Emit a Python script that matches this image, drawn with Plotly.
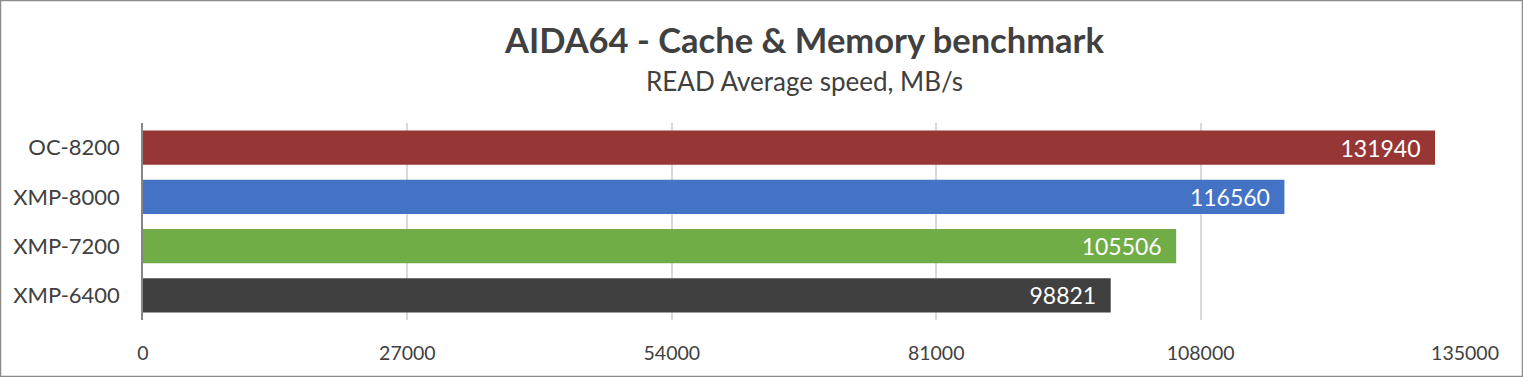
import plotly.graph_objects as go

categories = ["OC-8200", "XMP-8000", "XMP-7200", "XMP-6400"]
values = [131940, 116560, 105506, 98821]
colors = ["#973735", "#4472C4", "#70AD47", "#404040"]
tick_vals = [0, 27000, 54000, 81000, 108000, 135000]

FONT = "Lato"

fig = go.Figure()
fig.add_trace(go.Bar(
    y=categories,
    x=values,
    orientation="h",
    marker=dict(color=colors, line=dict(width=0)),
    text=[f"{v}\u2002" for v in values],
    textposition="inside",
    insidetextanchor="end",
    textfont=dict(family=FONT, size=23, color="white"),
    cliponaxis=False,
    hoverinfo="skip",
))

fig.update_layout(
    width=1523, height=377,
    margin=dict(l=143, r=58, t=123, b=57),
    paper_bgcolor="white",
    plot_bgcolor="white",
    showlegend=False,
    bargap=0.3,
    font=dict(family=FONT, color="#404040"),
)
fig.update_xaxes(
    range=[0, 135000],
    tickvals=tick_vals,
    ticktext=[str(v) for v in tick_vals],
    showgrid=True, gridcolor="#D9D9D9", gridwidth=1.5,
    zeroline=False, showline=False,
    tickfont=dict(family=FONT, size=19.5, color="#404040"),
    ticks="", ticklabelstandoff=19,
    fixedrange=True,
)
fig.update_yaxes(
    autorange="reversed",
    showgrid=False, zeroline=False,
    showline=True, linecolor="#868686", linewidth=1.5,
    tickfont=dict(family=FONT, size=22, color="#404040"),
    ticks="", ticklabelstandoff=17,
    fixedrange=True,
)
fig.add_annotation(
    text="<b>AIDA64 - Cache & Memory benchmark</b>",
    xref="paper", yref="paper", x=0.5, y=1,
    yshift=84, showarrow=False,
    font=dict(family=FONT, size=34.5, color="#404040"),
    xanchor="center", yanchor="middle",
)
fig.add_annotation(
    text="READ Average speed, MB/s",
    xref="paper", yref="paper", x=0.5, y=1,
    yshift=42, showarrow=False,
    font=dict(family=FONT, size=26, color="#404040"),
    xanchor="center", yanchor="middle",
)
fig.add_shape(
    type="rect", xref="paper", yref="paper",
    x0=-142.5/1322, x1=1+57.5/1322, y0=-56.5/197, y1=1+122.5/197,
    line=dict(color="#8C8C8C", width=1.5), layer="below",
)

fig.write_html(
    "out.html",
    config={"displayModeBar": False},
    post_script="document.body.style.margin='0';document.body.style.overflow='hidden';",
)
